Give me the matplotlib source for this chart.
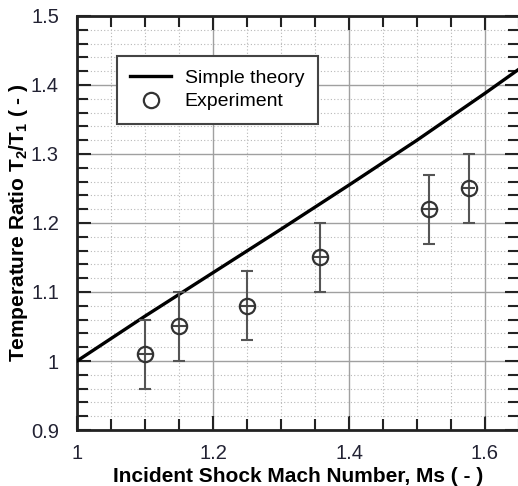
import matplotlib
matplotlib.use("Agg")
import matplotlib.pyplot as plt
from matplotlib.ticker import MultipleLocator

plt.rcParams['font.family'] = ['Liberation Sans', 'DejaVu Sans']

# Simple theory curve
theory_ms = [1.0, 1.1, 1.2, 1.3, 1.4, 1.5, 1.6, 1.65]
theory_t = [1.0, 1.065, 1.128, 1.191, 1.255, 1.320, 1.388, 1.423]

# Experiment
exp_ms = [1.10, 1.15, 1.25, 1.358, 1.518, 1.576]
exp_t = [1.01, 1.05, 1.08, 1.15, 1.22, 1.25]
exp_terr = [0.05, 0.05, 0.05, 0.05, 0.05, 0.05]
exp_mserr = [0.01, 0.01, 0.01, 0.01, 0.01, 0.01]

fig = plt.figure(figsize=(5.18, 4.86), dpi=100)
ax = fig.add_axes([77/518, 1-430/486, 442/518, 414/486])

ax.set_xlim(1.0, 1.65)
ax.set_ylim(0.9, 1.5)
ax.xaxis.set_major_locator(MultipleLocator(0.2))
ax.xaxis.set_minor_locator(MultipleLocator(0.05))
ax.yaxis.set_major_locator(MultipleLocator(0.1))
ax.yaxis.set_minor_locator(MultipleLocator(0.02))

ax.grid(which='major', color='#a0a0a0', linewidth=1.0, linestyle='-')
ax.grid(which='minor', color='#b8b8b8', linewidth=0.8, linestyle=(0, (1, 2)))
ax.set_axisbelow(True)

ax.plot(theory_ms, theory_t, color='black', linewidth=2.4, label='Simple theory', zorder=3)

ax.errorbar(exp_ms, exp_t, yerr=exp_terr, fmt='none', ecolor='#555555',
            elinewidth=1.5, capsize=4.3, capthick=1.5, zorder=4)
ax.errorbar(exp_ms, exp_t, xerr=exp_mserr, fmt='none', ecolor='#444444',
            elinewidth=1.5, capsize=0, zorder=4)
ax.plot(exp_ms, exp_t, linestyle='none', marker='o', markersize=11,
        markerfacecolor='none', markeredgecolor='#333333', markeredgewidth=1.6,
        label='Experiment', zorder=5)

def fmt(v, pos):
    s = ('%.1f' % v)
    if s.endswith('.0'):
        s = s[:-2]
    return s
ax.xaxis.set_major_formatter(matplotlib.ticker.FuncFormatter(fmt))
ax.yaxis.set_major_formatter(matplotlib.ticker.FuncFormatter(fmt))

ax.tick_params(which='both', direction='in', top=True, right=True,
               width=1.5, color='#222222', labelsize=14.5, labelcolor='#222233')
ax.tick_params(which='major', length=10)
ax.tick_params(which='minor', length=8)
ax.tick_params(axis='y', which='major', pad=13)
ax.tick_params(axis='x', which='major', pad=10)

for s in ax.spines.values():
    s.set_linewidth(2)
    s.set_color('#222222')

ax.set_xlabel('Incident Shock Mach Number, Ms ( - )', fontsize=15, fontweight='bold', labelpad=3)
ax.set_ylabel('Temperature Ratio T$_\\mathregular{2}$/T$_\\mathregular{1}$ ( - )', fontsize=15, fontweight='bold', labelpad=1)

leg = ax.legend(loc='upper left', bbox_to_anchor=(0.09, 0.904), borderaxespad=0,
                fontsize=14, frameon=True, fancybox=False, framealpha=1,
                edgecolor='#444444', handlelength=2.1, handletextpad=0.7,
                borderpad=0.7, labelspacing=0.3)
leg.get_frame().set_linewidth(1.5)

fig.savefig('out.png', dpi=100)
